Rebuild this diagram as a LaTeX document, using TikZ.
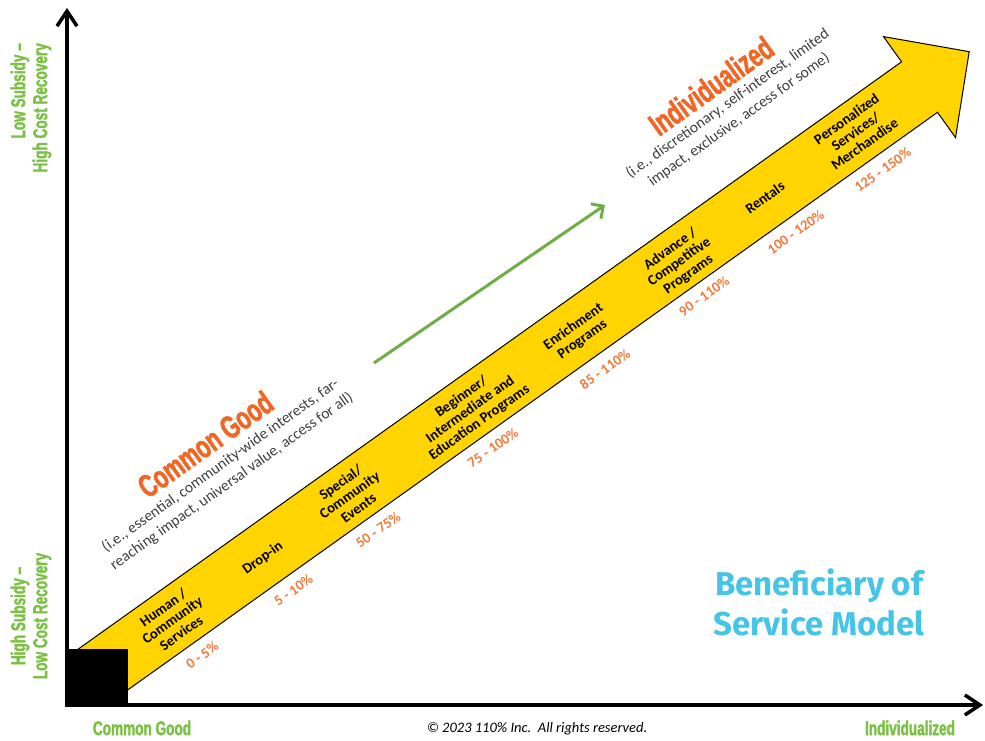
\documentclass[tikz,border=0pt]{standalone}
\usepackage{fontspec}
\setmainfont{Carlito}
\newfontfamily\condfont{Liberation Sans}[FakeStretch=0.68, BoldFeatures={FakeBold=1.6}]
\newfontfamily\titlefont{Fira Sans}
\usetikzlibrary{arrows.meta}
\definecolor{bandfill}{HTML}{FFD400}
\definecolor{pctorange}{HTML}{F47A3A}
\definecolor{headorange}{HTML}{F26522}
\definecolor{axisgreen}{HTML}{7AC143}
\definecolor{trendgreen}{HTML}{70AD47}
\definecolor{titlecyan}{HTML}{45C5E6}
\definecolor{descgray}{HTML}{3F3F3F}
\tikzset{
  axis/.style={line width=3.5pt, -{Straight Barb[length=15pt,width=20pt]}},
  trend/.style={line width=3pt, draw=trendgreen, -{Straight Barb[length=9pt,width=18pt]}},
  band/.style={fill=bandfill, draw=black, line width=1pt, line join=miter},
  stage/.style={font=\fontsize{14.5}{15.5}\selectfont\bfseries, align=center, rotate=35.5, inner sep=0pt},
  pct/.style={font=\fontsize{14.5}{15}\selectfont\bfseries, text=pctorange, rotate=35.5, inner sep=0pt},
  heading/.style={font=\condfont\bfseries\fontsize{32}{34}\selectfont, text=headorange, rotate=35.5, inner sep=0pt},
  desc/.style={font=\fontsize{15.5}{19.5}\selectfont, text=descgray, align=center, rotate=35.5, inner sep=0pt},
  sidelbl/.style={font=\condfont\bfseries\fontsize{20}{22}\selectfont, text=axisgreen, rotate=90, inner sep=0pt},
  baselbl/.style={font=\condfont\bfseries\fontsize{20}{22}\selectfont, text=axisgreen, inner sep=0pt},
}
\begin{document}
\begin{tikzpicture}[x=1pt, y=1pt]
\useasboundingbox (0,0) rectangle (985,740);
\fill[white] (0,0) rectangle (985,740);
% the rising band, in its own frame
\begin{scope}[shift={(103,70.5)}, rotate=35.5]
\draw[band] (-15,-31) -- (1003,-31) -- (1003,-62) -- (1064,0) -- (1003,62) -- (1003,31) -- (-15,31) -- cycle;
\node[stage] (human) at (85,0) {Human /\\Community\\Services};
\node[stage] (dropin) at (195,-2) {Drop-in};
\node[stage] (events) at (302,-1) {Special/\\Community\\Events};
\node[stage] (begin) at (450,-2) {Beginner/\\Intermediate and\\Education Programs};
\node[stage] (enrich) at (582,-2) {Enrichment\\Programs};
\node[stage] (advance) at (706,-3) {Advance /\\Competitive\\Programs};
\node[stage] (rentals) at (813,0) {Rentals};
\node[stage] (personal) at (925,1) {Personalized\\Services/\\Merchandise};
\node[pct] (p1) at (89,-46) {0 - 5\%};
\node[pct] (p2) at (201,-46) {5 - 10\%};
\node[pct] (p3) at (305,-46) {50 - 75\%};
\node[pct] (p4) at (446,-46) {75 - 100\%};
\node[pct] (p5) at (583,-47) {85 - 110\%};
\node[pct] (p6) at (706,-45) {90 - 110\%};
\node[pct] (p7) at (818,-46) {100 - 120\%};
\node[pct] (p8) at (925,-46) {125 - 150\%};
\node[heading] (cghead) at (214,124) {Common Good};
\node[desc] (cgdesc) at (214,88) {(i.e., essential, community-wide interests, far-\\reaching impact, universal value, access for all)};
\node[heading] (indhead) at (834,122) {Individualized};
\node[desc] (inddesc) at (837,88) {(i.e., discretionary, self-interest, limited\\impact, exclusive, access for some)};
\end{scope}
\fill (65.25,33.25) rectangle (128,91);
\coordinate (origin) at (67,35);
\coordinate (ytip) at (67,732);
\coordinate (xtip) at (983,35);
\draw[axis] (origin) -- (ytip);
\draw[axis] (origin) -- (xtip);
\coordinate (gstart) at (374,377);
\coordinate (gend) at (605,535);
\draw[trend] (gstart) -- (gend);
\node[sidelbl, anchor=east, align=right] (lowsub) at (31,697) {Low Subsidy –\\High Cost Recovery};
\node[sidelbl, align=center] (highsub) at (31,124) {High Subsidy –\\Low Cost Recovery};
\node[baselbl] (cgood) at (142,12) {Common Good};
\node[baselbl] (indiv) at (910,12) {Individualized};
\node[font=\fontsize{14.5}{16}\selectfont\itshape, inner sep=0pt] (rights) at (537,11) {© 2023 110\% Inc.\ \ All rights reserved.};
\node[font=\titlefont\bfseries\fontsize{33}{40}\selectfont, text=titlecyan, align=center, inner sep=0pt] (model) at (819,138) {Beneficiary of\\Service Model};
\end{tikzpicture}
\end{document}
